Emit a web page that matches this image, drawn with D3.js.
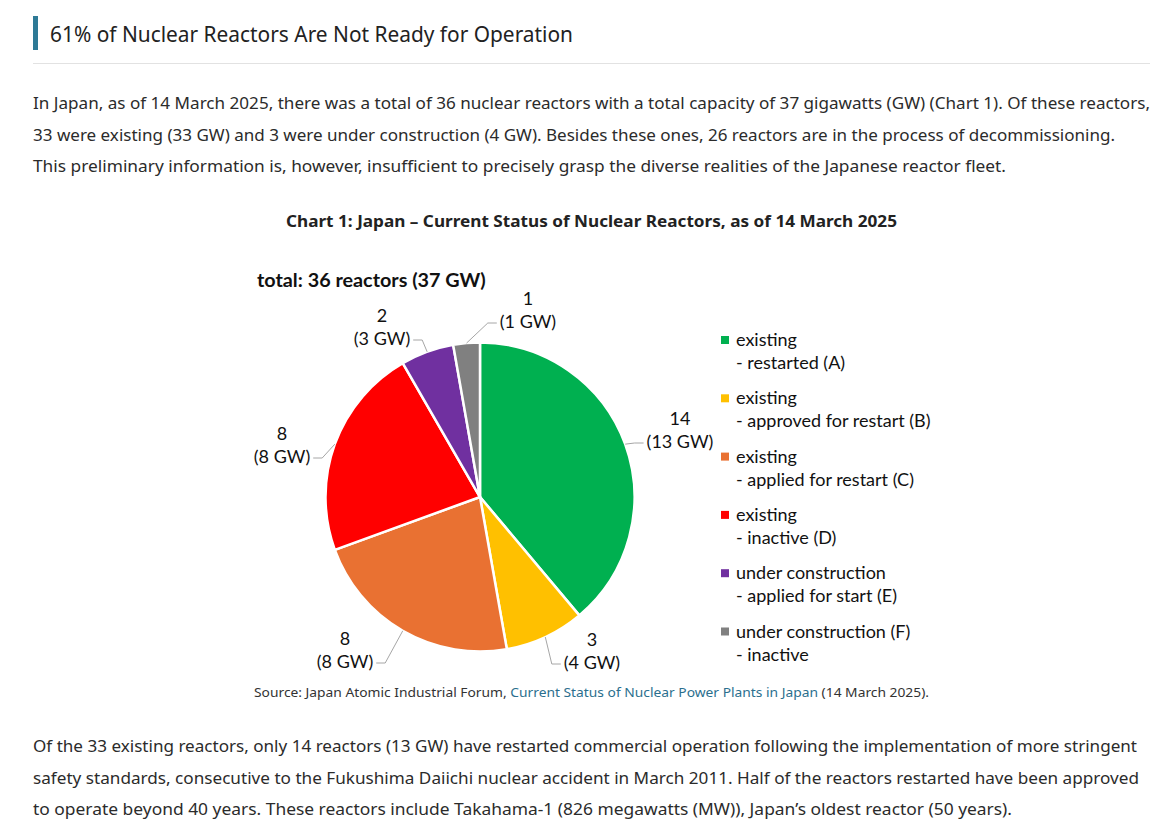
<!DOCTYPE html>
<html>
<head>
<meta charset="utf-8">
<script src="https://cdn.jsdelivr.net/npm/d3@7"></script>
<style>
  body { margin: 0; background: #fff; }
  svg { display: block; }
</style>
</head>
<body>
<svg id="page" width="1166" height="831"></svg>
<script>
// chart values
const categories = ["A", "B", "C", "D", "E", "F"];
const reactors = [14, 3, 8, 8, 2, 1];
const capacityGW = [13, 4, 8, 8, 3, 1];
const colors = ["#00b050", "#ffc000", "#e97132", "#ff0000", "#7030a0", "#808080"];
const legendTop = ["existing", "existing", "existing", "existing", "under construction", "under construction (F)"];
const legendSub = ["- restarted (A)", "- approved for restart (B)", "- applied for restart (C)", "- inactive (D)", "- applied for start (E)", "- inactive"];
// label block offsets from the pie centre (layout only)
const labelOffsets = [[200, -67], [112, 154], [-135, 153], [-198, -52], [-98, -170], [48, -187]];

const headline = "61% of Nuclear Reactors Are Not Ready for Operation";
const intro = [
  ["In Japan, as of 14 March 2025, there was a total of 36 nuclear reactors with a total capacity of 37 gigawatts (GW) (Chart 1). Of these reactors,", 1117],
  ["33 were existing (33 GW) and 3 were under construction (4 GW). Besides these ones, 26 reactors are in the process of decommissioning.", 1082],
  ["This preliminary information is, however, insufficient to precisely grasp the diverse realities of the Japanese reactor fleet.", 973]
];
const outro = [
  ["Of the 33 existing reactors, only 14 reactors (13 GW) have restarted commercial operation following the implementation of more stringent", 1104],
  ["safety standards, consecutive to the Fukushima Daiichi nuclear accident in March 2011. Half of the reactors restarted have been approved", 1106],
  ["to operate beyond 40 years. These reactors include Takahama-1 (826 megawatts (MW)), Japan’s oldest reactor (50 years).", 979]
];

const svg = d3.select("#page");
const pageFont = "'Noto Sans', 'Open Sans', sans-serif";
const chartFont = "Lato, 'Noto Sans', sans-serif";

// ---- article header ----
svg.append("rect").attr("x", 33).attr("y", 16).attr("width", 5).attr("height", 34).attr("fill", "#2e7a96");
svg.append("text")
    .attr("x", 50).attr("y", 42)
    .attr("font-family", pageFont).attr("font-size", 21).attr("fill", "#222")
    .attr("textLength", 523).attr("lengthAdjust", "spacingAndGlyphs")
    .text(headline);
svg.append("line").attr("x1", 33).attr("x2", 1150).attr("y1", 63.5).attr("y2", 63.5)
    .attr("stroke", "#e2e2e2").attr("stroke-width", 1);

function paragraph(lines, y0) {
  svg.append("g").selectAll("text").data(lines).join("text")
      .attr("x", 33).attr("y", (d, i) => y0 + i * 31.5)
      .attr("font-family", pageFont).attr("font-size", 16.5).attr("fill", "#2b2b2b")
      .attr("textLength", d => d[1]).attr("lengthAdjust", "spacingAndGlyphs")
      .text(d => d[0]);
}
paragraph(intro, 109);
paragraph(outro, 752);

// ---- chart title ----
svg.append("text")
    .attr("x", 286).attr("y", 227)
    .attr("font-family", pageFont).attr("font-size", 16.5).attr("font-weight", "bold").attr("fill", "#222")
    .attr("textLength", 611).attr("lengthAdjust", "spacingAndGlyphs")
    .text("Chart 1: Japan – Current Status of Nuclear Reactors, as of 14 March 2025");

svg.append("text")
    .attr("x", 257).attr("y", 287)
    .attr("font-family", chartFont).attr("font-size", 19.8).attr("font-weight", "bold").attr("fill", "#111")
    .text("total: " + d3.sum(reactors) + " reactors (" + d3.sum(capacityGW) + " GW)");

// ---- pie ----
const cx = 480, cy = 497, radius = 154.5;
const data = categories.map((c, i) => ({ key: c, n: reactors[i], gw: capacityGW[i], color: colors[i], off: labelOffsets[i] }));
const pie = d3.pie().sort(null).value(d => d.n);
const arc = d3.arc().innerRadius(0).outerRadius(radius);
const arcs = pie(data);

const g = svg.append("g").attr("transform", `translate(${cx},${cy})`);
g.selectAll("path").data(arcs).join("path")
    .attr("d", arc)
    .attr("fill", d => d.data.color)
    .attr("stroke", "#fff").attr("stroke-width", 2.5).attr("stroke-linejoin", "round");

// data labels with leader lines
const labels = g.append("g")
    .attr("font-family", chartFont).attr("font-size", 18).attr("fill", "#111")
    .attr("text-anchor", "middle");

arcs.forEach(a => {
  const [lx, ly] = a.data.off;
  const t = labels.append("text");
  t.append("tspan").attr("x", lx).attr("y", ly - 5).text(a.data.n);
  const second = t.append("tspan").attr("x", lx).attr("y", ly + 18).text("(" + a.data.gw + " GW)");
  const w = second.node().getComputedTextLength();

  const mid = (a.startAngle + a.endAngle) / 2;
  const px = Math.sin(mid) * radius, py = -Math.cos(mid) * radius;
  const onRight = lx > px;
  const ex = onRight ? lx - w / 2 - 3 : lx + w / 2 + 3;
  const ey = ly + 13;
  const bx = onRight ? ex - 9 : ex + 9;
  g.append("polyline")
      .attr("points", [[px, py], [bx, ey], [ex, ey]].map(p => p.join(",")).join(" "))
      .attr("fill", "none").attr("stroke", "#a6a6a6").attr("stroke-width", 1);
});

// ---- legend ----
const legend = svg.append("g").attr("font-family", chartFont).attr("font-size", 18).attr("fill", "#111");
const item = legend.selectAll("g").data(data).join("g")
    .attr("transform", (d, i) => `translate(721,${340 + i * 58.3})`);
item.append("rect").attr("x", 0).attr("y", -4).attr("width", 8).attr("height", 8).attr("fill", d => d.color);
item.append("text").attr("x", 15).attr("y", 6).text((d, i) => legendTop[i]);
item.append("text").attr("x", 15).attr("y", 29).text((d, i) => legendSub[i]);

// ---- source ----
const src = svg.append("text")
    .attr("x", 254).attr("y", 697)
    .attr("font-family", pageFont).attr("font-size", 13).attr("fill", "#333")
    .attr("textLength", 675).attr("lengthAdjust", "spacingAndGlyphs");
src.append("tspan").text("Source: Japan Atomic Industrial Forum, ");
src.append("tspan").attr("fill", "#2b6f8e").text("Current Status of Nuclear Power Plants in Japan");
src.append("tspan").text(" (14 March 2025).");
</script>
</body>
</html>
